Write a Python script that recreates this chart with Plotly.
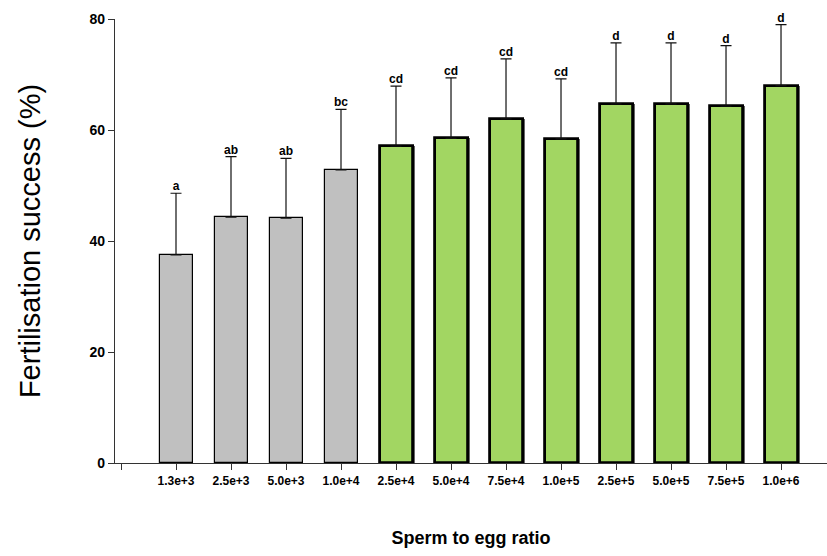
import plotly.graph_objects as go

categories = ["1.3e+3", "2.5e+3", "5.0e+3", "1.0e+4", "2.5e+4", "5.0e+4",
              "7.5e+4", "1.0e+5", "2.5e+5", "5.0e+5", "7.5e+5", "1.0e+6"]
means = [37.5, 44.3, 44.1, 52.8, 57.1, 58.5, 62.0, 58.4, 64.7, 64.7, 64.3, 68.0]
errors = [11.1, 10.9, 10.8, 10.9, 10.8, 10.9, 10.8, 10.8, 11.0, 11.0, 10.9, 11.0]
letters = ["a", "ab", "ab", "bc", "cd", "cd", "cd", "cd", "d", "d", "d", "d"]
groups = ["grey"] * 4 + ["green"] * 8

pos = list(range(1, len(categories) + 1))
FONT = "Liberation Sans, Arial, sans-serif"

fig = go.Figure()

for g, fill, lw in [("grey", "#c0c0c0", 1.2), ("green", "#a2d662", 2.8)]:
    idx = [i for i, gg in enumerate(groups) if gg == g]
    if g == "green":
        # darker shadow on the right edge
        fig.add_trace(go.Bar(
            x=[pos[i] + 0.04 for i in idx], y=[means[i] for i in idx],
            width=0.6, marker=dict(color="#666666", line=dict(width=0)),
            hoverinfo="skip", showlegend=False))
    fig.add_trace(go.Bar(
        x=[pos[i] for i in idx], y=[means[i] for i in idx], width=0.6,
        marker=dict(color=fill, line=dict(color="black", width=lw)),
        error_y=dict(type="data", symmetric=False,
                     array=[errors[i] for i in idx],
                     arrayminus=[0] * len(idx),
                     color="#111111", thickness=1.2, width=5.5),
        showlegend=False))

fig.add_trace(go.Scatter(
    x=pos, y=[m + e for m, e in zip(means, errors)], text=letters,
    mode="text", textposition="top center",
    textfont=dict(family=FONT, size=12, color="black"),
    texttemplate="<b>%{text}</b>", showlegend=False, cliponaxis=False))

fig.update_layout(
    width=827, height=556,
    margin=dict(l=115, r=0, t=19, b=93),
    plot_bgcolor="white", paper_bgcolor="white",
    barmode="overlay", bargap=0,
    font=dict(family=FONT, color="black"),
    xaxis=dict(
        range=[-0.109, 12.836],
        tickmode="array", tickvals=[0] + pos,
        ticktext=[""] + ["<b>%s</b>" % c for c in categories],
        tickfont=dict(size=12), ticks="outside", ticklen=6, tickwidth=1,
        tickcolor="#333333",
        showline=True, linecolor="#333333", linewidth=1.2,
        showgrid=False, zeroline=False,
        title=dict(text="<b>Sperm to egg ratio</b>",
                   font=dict(size=18), standoff=44),
    ),
    yaxis=dict(
        range=[0, 80], tickvals=[0, 20, 40, 60, 80],
        ticktext=["<b>%d</b>" % v for v in [0, 20, 40, 60, 80]],
        tickfont=dict(size=14), ticks="outside", ticklen=6, tickwidth=1,
        tickcolor="#333333",
        showline=True, linecolor="#333333", linewidth=1.2,
        showgrid=False, zeroline=False,
        title=dict(text="Fertilisation success (%)",
                   font=dict(size=29), standoff=40),
    ),
)

fig.write_html("out.html")
